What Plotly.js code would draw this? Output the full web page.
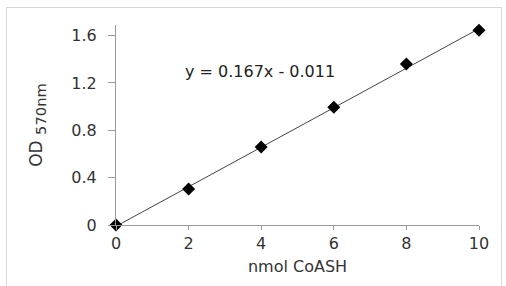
<!DOCTYPE html>
<html>
<head>
<meta charset="utf-8">
<script src="https://cdn.plot.ly/plotly-3.0.1.min.js"></script>
<style>
html,body{margin:0;padding:0;background:#fff;}
#frame{position:absolute;left:6px;top:7px;width:496px;height:290px;border:1px solid #d8d8d8;box-sizing:border-box;}
#chart{position:absolute;left:0;top:0;width:506px;height:286px;}
</style>
</head>
<body>
<div id="frame"></div>
<div id="chart"></div>
<script>
// Data
const amounts = [0, 2, 4, 6, 8, 10];
const odValues = [0.0, 0.305, 0.66, 0.995, 1.36, 1.645];
const slope = 0.167;
const intercept = -0.011;
const fitX = [0, 10];
const fitY = fitX.map(x => slope * x + intercept);
const xTicks = [0, 2, 4, 6, 8, 10];
const yTicks = [0, 0.4, 0.8, 1.2, 1.6];
const yTickText = ['0', '0.4', '0.8', '1.2', '1.6'];
const equationText = 'y = 0.167x - 0.011';

const fontFam = '"DejaVu Sans", sans-serif';
const traces = [
  {x: fitX, y: fitY, mode: 'lines', line: {color: '#444', width: 1}, cliponaxis: false, hoverinfo: 'skip'},
  {x: amounts, y: odValues, mode: 'markers', marker: {symbol: 'diamond', size: 10, color: '#000'}, cliponaxis: false}
];
const layout = {
  width: 506, height: 286,
  margin: {l: 116, r: 27, t: 25, b: 61},
  paper_bgcolor: 'rgba(0,0,0,0)', plot_bgcolor: 'rgba(0,0,0,0)',
  showlegend: false,
  font: {family: fontFam, color: '#333', size: 16},
  xaxis: {
    range: [0, 10], tickvals: xTicks, ticks: 'outside', ticklen: 4, tickcolor: '#999',
    showline: true, linecolor: '#999', linewidth: 1, showgrid: false, zeroline: false,
    tickfont: {size: 16, color: '#333'},
    title: {text: 'nmol CoASH', font: {size: 16, color: '#333'}, standoff: 8}
  },
  yaxis: {
    range: [0, 1.69], tickvals: yTicks, ticktext: yTickText, ticks: 'outside', ticklen: 7, tickcolor: '#999',
    showline: true, linecolor: '#999', linewidth: 1, showgrid: false, zeroline: false,
    tickfont: {size: 16, color: '#333'}, ticklabelstandoff: 8,
    title: {text: 'OD <span style="font-size:21px"><sub>570nm</sub></span>', font: {size: 17, color: '#333'}, standoff: 24}
  },
  annotations: [{
    x: 1.85, y: 1.295, xref: 'x', yref: 'y', text: equationText, showarrow: false,
    xanchor: 'left', yanchor: 'middle', font: {size: 16, color: '#222'}
  }]
};
Plotly.newPlot('chart', traces, layout, {displayModeBar: false, staticPlot: true});
</script>
</body>
</html>
